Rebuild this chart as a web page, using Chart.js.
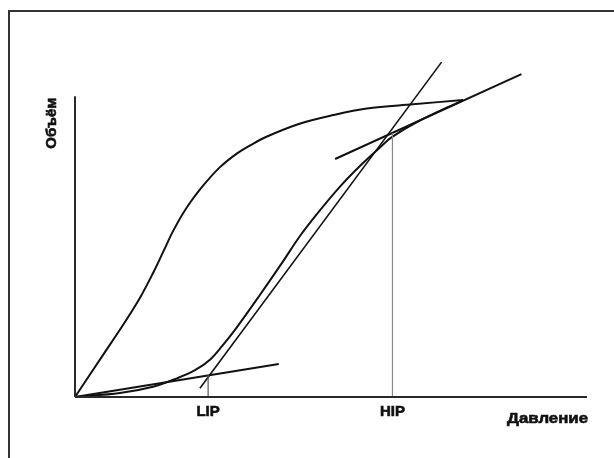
<!DOCTYPE html>
<html>
<head>
<meta charset="utf-8">
<script src="https://cdn.jsdelivr.net/npm/chart.js@4/dist/chart.umd.min.js"></script>
<style>
  html, body { margin: 0; padding: 0; background: #fff; overflow: hidden; }
  #wrap { position: relative; width: 614px; height: 458px; }
  #frame {
    position: absolute; left: 8px; top: 10px; width: 640px; height: 480px;
    border-top: 2px solid #333; border-left: 2px solid #333; box-sizing: border-box;
  }
  canvas { position: absolute; left: 0; top: 0; }
</style>
</head>
<body>
<div id="wrap">
  <div id="frame"></div>
  <canvas id="chart" width="614" height="458"></canvas>
</div>
<script>
// pressure (x) / volume (y) in arbitrary units
const LIP = 13;
const HIP = 31;
const tickLabels = ['LIP', 'HIP'];

const deflationP = [0, 2.76, 4.72, 6.35, 7.65, 8.62, 9.6, 10.9, 12.53, 14.16, 15.8, 17.1, 18.7, 22.0, 25.2, 28.5, 33.0, 37.9];
const deflationV = [0, 14.1, 24.1, 33.0, 41.4, 48.3, 55.3, 62.9, 70.3, 76.4, 80.9, 83.6, 86.5, 90.9, 93.7, 95.9, 97.3, 98.7];

const inflationP = [0, 4.39, 7.62, 9.96, 11.72, 13.18, 14.36, 15.62, 18.07, 20.3, 21.97, 23.6, 25.9, 27.8, 29.8, 30.9, 33.4, 37.9];
const inflationV = [0, 1.33, 3.42, 6.21, 8.9, 12.4, 16.9, 22.3, 34.0, 45.0, 53.5, 60.7, 70.0, 76.7, 83.0, 86.3, 91.4, 98.7];

const lowerTangentP = [0, 19.9];
const lowerTangentV = [0, 11];
const steepTangentP = [12.2, 35.8];
const steepTangentV = [2.9, 111.3];
const upperTangentP = [25.4, 43.6];
const upperTangentV = [79.1, 107.3];

const xAxisP = [0, 50];
const xAxisV = [0, 0];
const yAxisP = [0, 0];
const yAxisV = [0, 100];

const lipV = [0, 7.3];
const hipV = [0, 87.7];

const toPoints = (xs, ys) => xs.map((x, i) => ({ x: x, y: ys[i] }));

function line(xs, ys, color, width, tension) {
  return {
    data: toPoints(xs, ys),
    borderColor: color,
    borderWidth: width,
    pointRadius: 0,
    fill: false,
    clip: false,
    tension: tension || 0
  };
}

function boldText(ctx, text, x, y, stretch) {
  ctx.save();
  ctx.translate(x, y);
  ctx.scale(stretch || 1, 1);
  ctx.fillText(text, 0, 0);
  ctx.strokeText(text, 0, 0);
  ctx.restore();
}

const labelsPlugin = {
  id: 'labels',
  afterDatasetsDraw(chart) {
    const ctx = chart.ctx;
    const x = chart.scales.x;
    const y = chart.scales.y;
    const base = y.getPixelForValue(0);
    ctx.save();
    ctx.fillStyle = '#111';
    ctx.strokeStyle = '#111';
    ctx.lineWidth = 0.6;
    ctx.font = 'bold 15px "Liberation Sans", Arial, sans-serif';
    ctx.textAlign = 'center';
    ctx.textBaseline = 'middle';
    [LIP, HIP].forEach((v, i) => {
      boldText(ctx, tickLabels[i], x.getPixelForValue(v), base + 15);
    });
    ctx.textAlign = 'right';
    boldText(ctx, 'Давление', x.getPixelForValue(50) + 1, base + 22, 1.12);
    ctx.translate(52, y.getPixelForValue(91));
    ctx.rotate(-Math.PI / 2);
    ctx.textAlign = 'center';
    boldText(ctx, 'Объём', 0, 0);
    ctx.restore();
  }
};

new Chart(document.getElementById('chart'), {
  type: 'line',
  data: {
    datasets: [
      line(xAxisP, xAxisV, '#2a2a2a', 2),
      line(yAxisP, yAxisV, '#2a2a2a', 2),
      line([LIP, LIP], lipV, '#555', 1.2),
      line([HIP, HIP], hipV, '#888', 1.2),
      line(deflationP, deflationV, '#111', 2, 0.35),
      line(inflationP, inflationV, '#111', 2, 0.35),
      line(lowerTangentP, lowerTangentV, '#111', 2),
      line(steepTangentP, steepTangentV, '#111', 1.6),
      line(upperTangentP, upperTangentV, '#111', 2)
    ]
  },
  options: {
    responsive: false,
    animation: false,
    events: [],
    layout: { padding: { left: 75, right: 27, top: 51, bottom: 61 } },
    plugins: { legend: { display: false }, tooltip: { enabled: false } },
    scales: {
      x: { type: 'linear', min: 0, max: 50, display: false },
      y: { type: 'linear', min: 0, max: 115, display: false }
    }
  },
  plugins: [labelsPlugin]
});
</script>
</body>
</html>
